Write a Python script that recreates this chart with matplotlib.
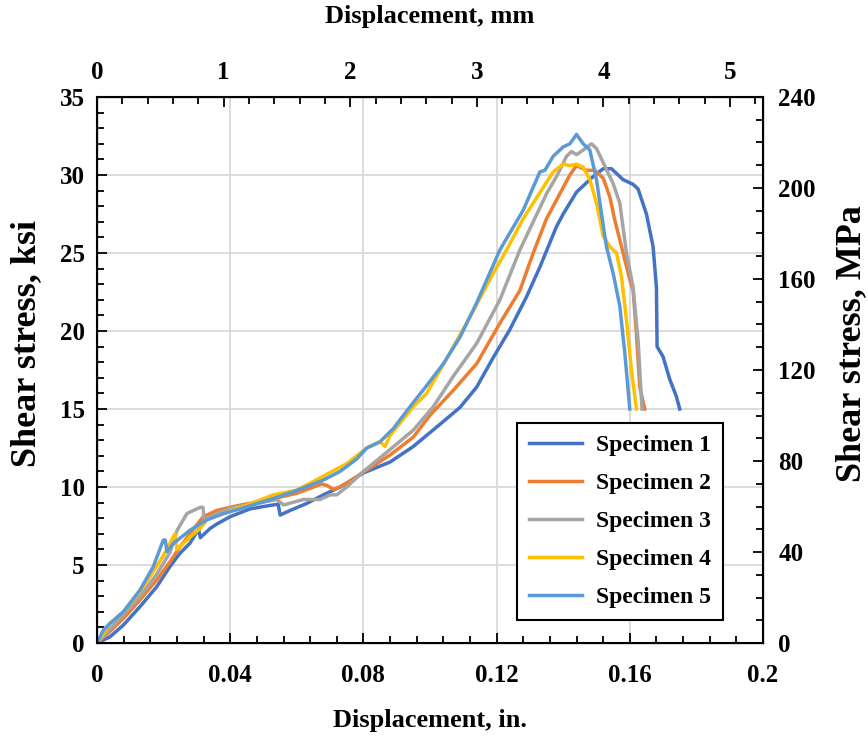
import matplotlib
matplotlib.use("Agg")
import matplotlib.pyplot as plt
from matplotlib.ticker import MultipleLocator

plt.rcParams['font.family'] = ['Liberation Serif', 'DejaVu Serif']
plt.rcParams['font.weight'] = 'bold'

# displacement (in.) and shear stress (ksi)
s1_x = [0, 0.0039, 0.0079, 0.0129, 0.0179, 0.0219, 0.0249, 0.0279, 0.0305, 0.031, 0.034, 0.036,
        0.040, 0.046, 0.050, 0.0544, 0.0550, 0.058, 0.063, 0.068, 0.073, 0.080, 0.088, 0.095,
        0.104, 0.109, 0.114, 0.119, 0.124, 0.129, 0.133, 0.138, 0.140, 0.144, 0.147, 0.149,
        0.152, 0.1545, 0.156, 0.158, 0.161, 0.1625, 0.165, 0.167, 0.168, 0.1682, 0.170, 0.172,
        0.174, 0.175]
s1_y = [0, 0.4, 1.15, 2.33, 3.6, 4.9, 5.75, 6.4, 7.3, 6.75, 7.35, 7.63,
        8.1, 8.6, 8.75, 8.9, 8.2, 8.5, 8.95, 9.5, 10.0, 10.9, 11.6, 12.6,
        14.2, 15.1, 16.4, 18.3, 20.1, 22.2, 24.1, 26.7, 27.5, 28.9, 29.5, 29.9,
        30.4, 30.4, 30.1, 29.7, 29.4, 29.1, 27.5, 25.4, 22.8, 19.0, 18.35, 16.9,
        15.8, 15.0]

s2_x = [0, 0.0039, 0.0079, 0.0129, 0.0179, 0.0219, 0.0249, 0.0279, 0.0319, 0.036, 0.041, 0.047,
        0.054, 0.060, 0.0675, 0.069, 0.071, 0.074, 0.080, 0.088, 0.095, 0.100, 0.107, 0.114,
        0.121, 0.127, 0.131, 0.135, 0.140, 0.142, 0.144, 0.147, 0.1495, 0.152, 0.154, 0.1555,
        0.158, 0.160, 0.161, 0.162, 0.163, 0.1645]
s2_y = [0, 0.75, 1.58, 2.76, 4.04, 5.2, 6.17, 7.0, 8.1, 8.5, 8.75, 9.0,
        9.3, 9.6, 10.2, 10.1, 9.85, 10.1, 10.95, 12.05, 13.2, 14.6, 16.2, 17.9,
        20.5, 22.6, 25.0, 27.2, 29.2, 30.0, 30.6, 30.3, 30.3, 29.8, 28.6, 27.1,
        25.0, 23.3, 22.6, 19.8, 16.4, 15.0]

s3_x = [0, 0.0039, 0.0079, 0.0129, 0.0179, 0.0219, 0.024, 0.027, 0.031, 0.0318, 0.0322, 0.036,
        0.041, 0.047, 0.054, 0.056, 0.062, 0.067, 0.070, 0.072, 0.075, 0.080, 0.088, 0.095,
        0.101, 0.107, 0.114, 0.121, 0.127, 0.131, 0.135, 0.138, 0.141, 0.1425, 0.144, 0.146,
        0.1485, 0.150, 0.152, 0.155, 0.157, 0.159, 0.161, 0.1625, 0.1635, 0.1637]
s3_y = [0, 0.9, 1.8, 3.0, 4.4, 5.8, 7.2, 8.3, 8.7, 8.7, 7.9, 8.3,
        8.7, 8.9, 9.2, 8.85, 9.2, 9.2, 9.5, 9.5, 10.0, 11.0, 12.4, 13.65,
        15.15, 17.1, 19.2, 22.0, 25.2, 27.0, 28.8, 29.9, 31.2, 31.5, 31.3, 31.6,
        32.0, 31.7, 30.8, 29.45, 28.2, 25.0, 22.8, 19.4, 15.6, 15.0]

s4_x = [0, 0.0039, 0.0079, 0.0129, 0.0179, 0.0209, 0.0224, 0.0234, 0.0240, 0.028, 0.031, 0.033,
        0.038, 0.045, 0.053, 0.060, 0.068, 0.075, 0.081, 0.085, 0.0865, 0.088, 0.095, 0.099,
        0.106, 0.112, 0.119, 0.123, 0.128, 0.134, 0.137, 0.140, 0.142, 0.144, 0.146, 0.148,
        0.150, 0.152, 0.154, 0.156, 0.1575, 0.159, 0.1605, 0.162]
s4_y = [0, 1.26, 2.0, 3.3, 4.9, 5.96, 6.6, 7.0, 6.0, 6.8, 7.35, 7.9,
        8.3, 8.85, 9.5, 9.8, 10.7, 11.5, 12.5, 12.9, 12.6, 13.3, 15.15, 16.0,
        18.6, 20.9, 23.7, 25.2, 27.2, 29.2, 30.2, 30.7, 30.6, 30.7, 30.5, 29.7,
        28.2, 26.1, 25.4, 25.0, 23.5, 20.7, 17.5, 15.0]

s5_x = [0, 0.0019, 0.0039, 0.0079, 0.0129, 0.0169, 0.0199, 0.0205, 0.021, 0.023, 0.028, 0.033,
        0.038, 0.043, 0.053, 0.059, 0.068, 0.073, 0.078, 0.081, 0.085, 0.089, 0.094, 0.099,
        0.104, 0.109, 0.114, 0.121, 0.128, 0.133, 0.1345, 0.137, 0.140, 0.142, 0.144, 0.146,
        0.148, 0.150, 0.1515, 0.153, 0.155, 0.157, 0.1585, 0.160]
s5_y = [0, 0.83, 1.26, 2.0, 3.4, 4.9, 6.6, 6.6, 5.86, 6.4, 7.24, 7.9,
        8.3, 8.6, 9.27, 9.7, 10.45, 11.0, 11.8, 12.5, 12.9, 13.75, 15.15, 16.5,
        17.9, 19.6, 21.8, 25.2, 27.75, 30.2, 30.3, 31.2, 31.8, 32.0, 32.6, 32.0,
        31.6, 29.7, 27.5, 25.4, 23.7, 21.6, 18.6, 15.0]

labels = ['Specimen 1', 'Specimen 2', 'Specimen 3', 'Specimen 4', 'Specimen 5']
colors = ['#4472C4', '#ED7D31', '#A5A5A5', '#FFC000', '#5B9BD5']
series = [(s1_x, s1_y), (s2_x, s2_y), (s3_x, s3_y), (s4_x, s4_y), (s5_x, s5_y)]

fig = plt.figure(figsize=(8.68, 7.42), dpi=100)
ax = fig.add_axes([0.1118, 0.1334, 0.7672, 0.7359])

for (x, y), lab, c in zip(series, labels, colors):
    ax.plot(x, y, color=c, lw=2.5, label=lab, solid_joinstyle='round')

ax.set_xlim(0, 0.2)
ax.set_ylim(0, 35)
ax.xaxis.set_minor_locator(MultipleLocator(0.008))
ax.yaxis.set_major_locator(MultipleLocator(5))
ax.yaxis.set_minor_locator(MultipleLocator(1))
ax.set_xticks([0, 0.04, 0.08, 0.12, 0.16, 0.2])
ax.set_xticklabels(['0', '0.04', '0.08', '0.12', '0.16', '0.2'])
ax.grid(True, which='major', color='#D9D9D9', lw=1.3)
ax.set_axisbelow(True)
ax.tick_params(which='both', direction='in', labelsize=18, width=1.3)
ax.tick_params(which='major', length=7)
ax.tick_params(which='minor', length=5)
ax.tick_params(axis='x', pad=15)
ax.tick_params(axis='y', pad=9)
ax.set_xlabel('Displacement, in.', fontsize=19, fontweight='bold', va='center')
ax.xaxis.set_label_coords(0.5, -0.141)
ax.set_ylabel('Shear stress, ksi', fontsize=26, fontweight='bold', va='center')
ax.yaxis.set_label_coords(-0.105, 0.549)
for sp in ax.spines.values():
    sp.set_linewidth(1.5)

# secondary axes
axt = ax.twiny()
axt.set_xlim(0, 5.26)
axt.xaxis.set_major_locator(MultipleLocator(1))
axt.xaxis.set_minor_locator(MultipleLocator(0.2))
axt.tick_params(which='both', direction='in', labelsize=18, width=1.3, pad=9)
axt.tick_params(which='major', length=7)
axt.tick_params(which='minor', length=5)
axt.set_xlabel('Displacement, mm', fontsize=19, fontweight='bold', va='center')
axt.xaxis.set_label_coords(0.5, 1.1465)

axr = ax.twinx()
axr.set_ylim(0, 240)
axr.yaxis.set_major_locator(MultipleLocator(40))
axr.yaxis.set_minor_locator(MultipleLocator(10))
axr.tick_params(which='both', direction='in', labelsize=18, width=1.3, pad=11)
axr.tick_params(which='major', length=7)
axr.tick_params(which='minor', length=5)
axr.set_ylabel('Shear stress, MPa', fontsize=26, fontweight='bold', va='center')
axr.yaxis.set_label_coords(1.1336, 0.549)

leg = ax.legend(loc='lower right', bbox_to_anchor=(0.94, 0.042), fontsize=17,
                frameon=True, fancybox=False, edgecolor='black', framealpha=1,
                handlelength=2.25, labelspacing=0.7, borderpad=0.5, handletextpad=0.6,
                borderaxespad=0)
leg.get_frame().set_linewidth(1.5)

fig.savefig('out.png', dpi=100)
